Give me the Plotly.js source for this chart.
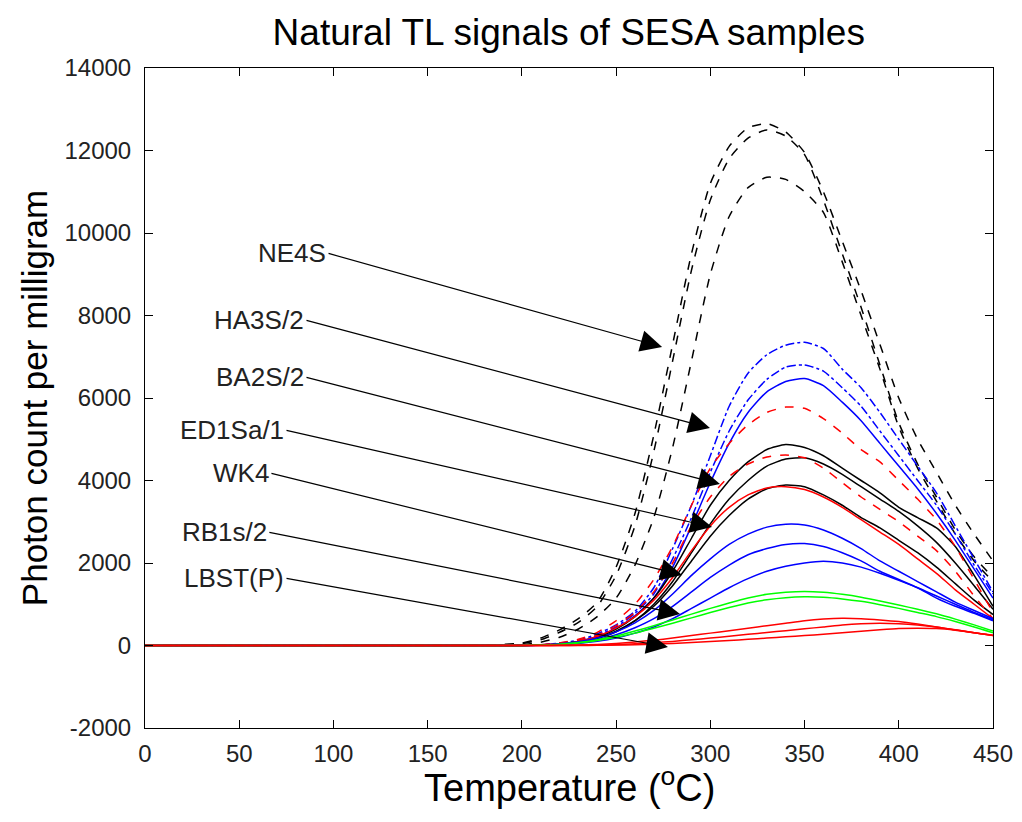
<!DOCTYPE html>
<html>
<head>
<meta charset="utf-8">
<script src="https://cdn.plot.ly/plotly-3.0.1.min.js"></script>
<style>html,body{margin:0;padding:0;background:#fff;}#chart{width:1022px;height:822px;}</style>
</head>
<body>
<div id="chart"></div>
<script>
// Temperature grid (°C)
const temperature = [0,150,160,170,180,190,200,210,220,230,240,250,260,270,280,290,300,310,320,330,340,350,360,370,380,390,400,410,420,430,440,450];

// NE4S (black dashed)
const ne4s_1 = [0,0,0,0,10,25,60,180,380,650,1050,1900,3200,5100,7300,9500,11200,12100,12550,12650,12450,11950,11000,9800,8600,7300,6000,5000,4200,3400,2700,2050];
const ne4s_2 = [0,0,0,0,5,20,45,140,320,560,950,1700,2900,4700,6900,9100,10800,11800,12300,12500,12350,11900,10800,9500,8200,6800,5400,4400,3600,2800,2150,1650];
const ne4s_3 = [0,0,0,0,0,10,20,80,200,400,700,1150,1950,3100,4800,6900,9000,10400,11100,11350,11300,11000,10500,9300,8000,6700,5300,4300,3500,2700,2050,1550];
// HA3S/2 (blue)
const ha3s_1 = [0,0,0,0,0,0,5,20,60,130,280,500,830,1400,2350,3400,4600,5800,6600,7050,7280,7350,7200,6700,6250,5650,5000,4350,3700,2900,2100,1300];
const ha3s_2 = [0,0,0,0,0,0,5,15,50,110,240,450,780,1250,2100,3100,4200,5200,5950,6450,6750,6800,6650,6250,5800,5200,4600,4000,3400,2700,1950,1250];
const ha3s_3 = [0,0,0,0,0,0,5,15,45,100,220,420,720,1150,1900,2900,3950,4900,5650,6150,6400,6470,6300,5900,5450,4900,4350,3800,3200,2550,1850,1150];
// BA2S/2 (red)
const ba2s_1 = [0,0,0,0,0,0,5,20,60,150,320,600,1000,1600,2400,3400,4300,4900,5350,5650,5780,5750,5500,5150,4750,4450,4000,3550,3050,2400,1600,800];
const ba2s_2 = [0,0,0,0,0,0,5,15,50,120,250,480,800,1300,2000,2900,3600,4100,4400,4570,4620,4550,4300,3950,3600,3300,3000,2650,2300,1800,1200,650];
const ba2s_3 = [0,0,0,0,0,0,5,15,40,100,220,420,700,1100,1650,2300,2900,3350,3650,3820,3850,3780,3600,3350,3050,2750,2450,2100,1750,1350,1000,650];
// ED1Sa/1 (black)
const ed1sa_1 = [0,0,0,0,0,0,0,10,40,100,200,400,700,1150,1800,2600,3400,4000,4450,4750,4870,4800,4600,4300,4000,3700,3350,3100,2850,2400,1700,950];
const ed1sa_2 = [0,0,0,0,0,0,0,10,30,80,170,330,600,1000,1550,2250,2950,3550,4000,4350,4520,4550,4400,4150,3850,3550,3250,2900,2500,2000,1450,880];
const ed1sa_3 = [0,0,0,0,0,0,0,10,30,80,180,350,600,950,1450,2050,2650,3150,3550,3800,3890,3850,3650,3400,3100,2850,2550,2250,1900,1500,1100,750];
// WK4 (blue)
const wk4_1 = [0,0,0,0,0,0,0,10,40,90,180,330,550,850,1250,1700,2100,2450,2700,2870,2940,2920,2800,2600,2350,2050,1800,1550,1300,1050,850,650];
const wk4_2 = [0,0,0,0,0,0,0,8,30,70,140,260,430,650,950,1300,1650,1950,2200,2350,2450,2470,2400,2250,2050,1800,1600,1400,1150,950,780,600];
const wk4_3 = [0,0,0,0,0,0,0,5,20,50,100,180,300,450,650,900,1150,1400,1620,1800,1920,2000,2040,2000,1900,1750,1580,1400,1200,1000,800,620];
// RB1s/2 (green)
const rb1s_1 = [0,0,0,0,0,0,0,10,30,70,140,230,350,480,620,760,900,1030,1150,1240,1290,1310,1290,1240,1170,1080,980,880,770,640,500,350];
const rb1s_2 = [0,0,0,0,0,0,0,8,25,60,120,200,300,420,540,670,800,920,1030,1110,1160,1180,1170,1130,1070,990,900,800,700,580,450,310];
// LBST(P) (red)
const lbst_1 = [0,0,0,0,0,0,0,0,5,10,25,50,85,130,180,240,300,360,420,480,540,600,640,660,650,620,580,520,450,380,310,250];
const lbst_2 = [0,0,0,0,0,0,0,0,0,5,10,20,40,65,100,140,180,225,270,315,360,405,450,500,530,540,530,500,450,380,310,240];
const lbst_3 = [0,0,0,0,0,0,0,0,0,0,5,10,20,30,50,70,95,120,150,180,210,240,275,310,345,380,410,420,410,370,310,240];

// Axis ticks
const xTicks = [0,50,100,150,200,250,300,350,400,450];
const yTicks = [-2000,0,2000,4000,6000,8000,10000,12000,14000];
const yTickLabels = ["-2000","0","2000","4000","6000","8000","10000","12000","14000"];

// Annotation labels and arrow end points (data coordinates)
const sampleLabels = ["NE4S","HA3S/2","BA2S/2","ED1Sa/1","WK4","RB1s/2","LBST(P)"];
const labelTailT = [96.6, 84.9, 84.9, 74.3, 66.3, 65.2, 74.3];
const labelTailV = [9515, 7891, 6509, 5224, 4182, 2751, 1636];
const arrowTipT = [274.4, 299.8, 305.1, 300.9, 285.0, 283.9, 277.5];
const arrowTipV = [7236, 5272, 3915, 2873, 1709, 763, -36];

const series = [
  [ne4s_1,'#000000','dash'],[ne4s_2,'#000000','dash'],[ne4s_3,'#000000','dash'],
  [ha3s_1,'#0000ff','dashdot'],[ha3s_2,'#0000ff','dashdot'],[ha3s_3,'#0000ff','solid'],
  [ed1sa_1,'#000000','solid'],[ed1sa_2,'#000000','solid'],[ed1sa_3,'#000000','solid'],
  [ba2s_1,'#ff0000','dash'],[ba2s_2,'#ff0000','dash'],[ba2s_3,'#ff0000','solid'],
  [wk4_1,'#0000ff','solid'],[wk4_2,'#0000ff','solid'],[wk4_3,'#0000ff','solid'],
  [rb1s_1,'#00ff00','solid'],[rb1s_2,'#00ff00','solid'],
  [lbst_1,'#ff0000','solid'],[lbst_2,'#ff0000','solid'],[lbst_3,'#ff0000','solid']
];

const traces = series.map(s => ({
  x: temperature, y: s[0], type: 'scatter', mode: 'lines',
  line: {color: s[1], dash: s[2], width: 1.5, shape: 'spline', smoothing: 0.6},
  showlegend: false, hoverinfo: 'skip'
}));

const FONT = 'Liberation Sans, Arial, Helvetica, sans-serif';
const annotations = [];
for (let i = 0; i < sampleLabels.length; i++) {
  annotations.push({
    x: arrowTipT[i], y: arrowTipV[i], xref: 'x', yref: 'y',
    ax: labelTailT[i], ay: labelTailV[i], axref: 'x', ayref: 'y',
    text: '', showarrow: true, arrowhead: 2, arrowsize: 3.6, arrowwidth: 1.2,
    arrowcolor: '#000', standoff: 0, startstandoff: 0
  });
  annotations.push({
    x: labelTailT[i], y: labelTailV[i], xref: 'x', yref: 'y',
    text: sampleLabels[i], showarrow: false, xanchor: 'right', yanchor: 'middle',
    xshift: 1,
    font: {family: FONT, size: 26, color: '#222'}
  });
}
// x-axis title placed precisely below the tick labels
annotations.push({
  text: 'Temperature (<sup>o</sup>C)', xref: 'paper', yref: 'paper',
  x: 0.5, y: -57/660, xanchor: 'center', yanchor: 'middle', showarrow: false,
  font: {family: FONT, size: 38, color: '#000'}
});

const axisCommon = {
  showline: true, linecolor: '#000', linewidth: 1, mirror: 'allticks',
  ticks: 'inside', ticklen: 8, tickcolor: '#000', tickwidth: 1,
  showgrid: false, zeroline: false,
  tickfont: {family: FONT, size: 24, color: '#222'}
};

const layout = {
  width: 1022, height: 822,
  margin: {l: 145, r: 29, t: 68, b: 94},
  paper_bgcolor: '#fff', plot_bgcolor: '#fff',
  title: {text: 'Natural TL signals of SESA samples', font: {family: FONT, size: 37, color: '#000'},
          x: 0.5565, xanchor: 'center', y: 1 - 32/822, yref: 'container', yanchor: 'middle'},
  xaxis: Object.assign({}, axisCommon, {
    range: [0, 450], tickvals: xTicks, ticklabelstandoff: 4
  }),
  yaxis: Object.assign({}, axisCommon, {
    range: [-2000, 14000], tickvals: yTicks, ticktext: yTickLabels, ticklabelstandoff: 8,
    title: {text: 'Photon count per milligram', font: {family: FONT, size: 35, color: '#000'}, standoff: 6}
  }),
  annotations: annotations,
  showlegend: false
};

Plotly.newPlot('chart', traces, layout, {staticPlot: true, displayModeBar: false});
</script>
</body>
</html>
